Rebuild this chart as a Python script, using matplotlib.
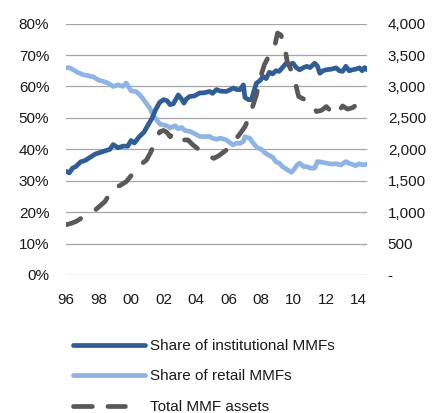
import matplotlib
matplotlib.use("Agg")
import matplotlib.pyplot as plt
from matplotlib.lines import Line2D
from matplotlib.ticker import FuncFormatter

plt.rcParams['font.family'] = ['Liberation Sans', 'DejaVu Sans']

# ---- data ----
inst_years = [1996.0, 1996.2, 1996.4, 1996.6, 1996.9, 1997.2, 1997.5, 1997.8, 1998.1, 1998.4,
              1998.7, 1998.9, 1999.2, 1999.5, 1999.8, 2000.0, 2000.2, 2000.5, 2000.8, 2001.05,
              2001.3, 2001.5, 2001.75, 2002.0, 2002.2, 2002.4, 2002.6, 2002.9, 2003.1, 2003.25,
              2003.4, 2003.6, 2003.9, 2004.2, 2004.5, 2004.83, 2005.0, 2005.25, 2005.5, 2005.86,
              2006.1, 2006.3, 2006.5, 2006.7, 2006.9, 2007.0, 2007.2, 2007.4, 2007.55, 2007.7,
              2007.95, 2008.1, 2008.3, 2008.5, 2008.7, 2008.9, 2009.1, 2009.3, 2009.54, 2009.75,
              2009.95, 2010.15, 2010.36, 2010.6, 2010.8, 2011.0, 2011.28, 2011.45, 2011.6, 2011.8,
              2012.0, 2012.3, 2012.6, 2012.8, 2013.0, 2013.2, 2013.4, 2013.6, 2013.8, 2014.04,
              2014.2, 2014.35, 2014.5]
inst_share = [33.0, 32.5, 34.0, 34.5, 36.0, 36.5, 37.5, 38.5, 39.0, 39.5,
              40.0, 41.5, 40.5, 41.0, 41.0, 42.8, 42.0, 44.0, 45.5, 47.8,
              50.0, 52.5, 54.9, 55.8, 55.5, 54.2, 54.5, 57.3, 56.0, 54.7,
              56.0, 56.8, 57.0, 57.9, 58.0, 58.4, 57.8, 59.0, 58.5, 58.4,
              59.0, 59.5, 59.0, 59.0, 60.5, 56.5, 55.8, 55.8, 58.5, 61.0,
              62.0, 63.2, 62.5, 64.5, 64.0, 65.0, 64.8, 66.0, 67.4, 67.0,
              67.4, 66.0, 65.3, 66.0, 66.4, 66.0, 67.4, 66.5, 64.2, 65.0,
              65.3, 65.5, 65.9, 65.0, 64.8, 66.4, 65.0, 65.3, 65.5, 65.9,
              65.0, 66.0, 65.3]

retail_years = [1996.0, 1996.2, 1996.45, 1996.7, 1997.06, 1997.3, 1997.7, 1998.0, 1998.3, 1998.6,
                1998.9, 1999.2, 1999.5, 1999.7, 2000.0, 2000.3, 2000.5, 2000.7, 2000.95, 2001.15,
                2001.35, 2001.56, 2001.77, 2001.97, 2002.2, 2002.4, 2002.7, 2002.9, 2003.1, 2003.3,
                2003.6, 2003.9, 2004.2, 2004.5, 2004.83, 2005.0, 2005.25, 2005.5, 2005.86, 2006.1,
                2006.27, 2006.5, 2006.7, 2006.9, 2007.0, 2007.3, 2007.5, 2007.75, 2008.0, 2008.2,
                2008.5, 2008.7, 2008.9, 2009.1, 2009.3, 2009.6, 2009.85, 2010.0, 2010.2, 2010.36,
                2010.6, 2010.8, 2011.0, 2011.28, 2011.45, 2011.6, 2012.0, 2012.3, 2012.6, 2012.9,
                2013.2, 2013.4, 2013.6, 2013.8, 2014.04, 2014.25, 2014.5]
retail_share = [65.9, 66.0, 65.3, 64.5, 63.7, 63.5, 63.0, 62.0, 61.6, 61.0,
                60.0, 60.5, 60.0, 61.1, 58.6, 58.4, 57.5, 56.3, 54.5, 53.1,
                51.0, 49.4, 48.0, 47.8, 47.5, 46.8, 47.5, 46.5, 47.0, 46.0,
                45.7, 45.0, 44.1, 44.0, 44.1, 43.5, 43.2, 43.5, 43.0, 42.0,
                41.4, 42.0, 41.9, 42.5, 44.0, 43.5, 42.0, 40.5, 40.0, 39.0,
                38.0, 37.5, 36.0, 35.6, 34.5, 33.5, 32.7, 33.5, 35.0, 35.6,
                34.5, 34.5, 34.0, 34.0, 36.1, 36.0, 35.6, 35.3, 35.4, 35.0,
                36.1, 35.5, 35.2, 34.8, 35.4, 35.0, 35.3]

assets_years = [1996.0, 1996.3, 1996.6, 1996.8, 1997.2, 1997.7, 1998.0, 1998.4, 1998.7, 1999.0,
                1999.3, 1999.7, 2000.0, 2000.3, 2000.6, 2000.95, 2001.2, 2001.4, 2001.6, 2001.77,
                2002.0, 2002.2, 2002.4, 2002.6, 2002.8, 2003.0, 2003.2, 2003.5, 2003.8, 2004.2,
                2004.5, 2004.8, 2005.1, 2005.4, 2005.86, 2006.1, 2006.4, 2006.7, 2007.0, 2007.2,
                2007.4, 2007.7, 2007.95, 2008.2, 2008.4, 2008.6, 2008.8, 2009.0, 2009.2, 2009.4,
                2009.6, 2009.85, 2010.1, 2010.3, 2010.6, 2010.9, 2011.1, 2011.4, 2011.7, 2012.0,
                2012.3, 2012.6, 2012.8, 2013.0, 2013.3, 2013.6, 2013.85, 2014.1, 2014.3, 2014.45]
assets_total = [800, 820, 850, 880, 950, 1010, 1080, 1170, 1300, 1405,
                1420, 1485, 1580, 1670, 1760, 1830, 1950, 2070, 2200, 2280,
                2300, 2270, 2200, 2260, 2250, 2230, 2150, 2148, 2070, 1990,
                1930, 1880, 1857, 1900, 1989, 2050, 2150, 2250, 2360, 2480,
                2625, 2864, 3150, 3350, 3450, 3500, 3607, 3850, 3820, 3686,
                3393, 3250, 3050, 2840, 2800, 2780, 2720, 2600, 2620, 2680,
                2600, 2545, 2620, 2690, 2640, 2660, 2705, 2680, 2620, 2573]

xtick_years = [1996, 1998, 2000, 2002, 2004, 2006, 2008, 2010, 2012, 2014]
xtick_labels = ['96', '98', '00', '02', '04', '06', '08', '10', '12', '14']
left_ticks = [0, 10, 20, 30, 40, 50, 60, 70, 80]
right_ticks = [0, 500, 1000, 1500, 2000, 2500, 3000, 3500, 4000]

series_labels = ['Share of institutional MMFs', 'Share of retail MMFs', 'Total MMF assets']

# ---- style ----
C_INST = '#2F5D95'
C_RET = '#8DB4E2'
C_TOT = '#595959'
C_TXT = '#1a1a1a'
FS = 11
LW = 3.4

fig = plt.figure(figsize=(4.36, 4.13), dpi=100)
ax = fig.add_axes([66/436, 1 - 275/413, (367-66)/436, (275-23.6)/413])
ax2 = ax.twinx()

l1, = ax.plot(inst_years, inst_share, color=C_INST, lw=LW, solid_capstyle='round',
              solid_joinstyle='round', label=series_labels[0], zorder=3)
l2, = ax.plot(retail_years, retail_share, color=C_RET, lw=LW, solid_capstyle='round',
              solid_joinstyle='round', label=series_labels[1], zorder=2)
l3, = ax2.plot(assets_years, assets_total, color=C_TOT, lw=LW, dash_capstyle='round',
               dashes=(3.4, 3.8), label=series_labels[2])

ax.set_xlim(1996, 2014.5)
ax.set_ylim(0, 80)
ax2.set_ylim(0, 4000)

ax.set_yticks(left_ticks)
ax.yaxis.set_major_formatter(FuncFormatter(lambda v, p: f'{int(v)}%'))
ax2.set_yticks(right_ticks)
ax2.yaxis.set_major_formatter(FuncFormatter(lambda v, p: '-' if v == 0 else f'{int(v):,}'))
ax.set_xticks(xtick_years)
ax.set_xticklabels(xtick_labels)

ax.grid(axis='y', color='#A6A6A6', lw=0.9)
ax.set_axisbelow(True)
for a in (ax, ax2):
    for s in a.spines.values():
        s.set_visible(False)

ax.tick_params(axis='y', length=0, pad=12, labelsize=FS, labelcolor=C_TXT)
ax.tick_params(axis='x', length=0, pad=13, labelsize=FS, labelcolor=C_TXT)
ax2.tick_params(axis='y', length=0, pad=15, labelsize=FS, labelcolor=C_TXT)
for t in ax2.get_yticklabels():
    t.set_horizontalalignment('left')

# legend proxy for the dashed series: two long dashes like the reference
h3 = Line2D([], [], color=C_TOT, lw=LW, dash_capstyle='round',
            dashes=(4.0, 3.3, 3.7, 12), label=series_labels[2])

leg = fig.legend(handles=[l1, l2, h3], loc='upper left',
                 bbox_to_anchor=(73/436, 1 - 339/413), frameon=False,
                 fontsize=FS, handlelength=4.7, handletextpad=0.35,
                 labelspacing=1.08, borderpad=0, borderaxespad=0)
for t in leg.get_texts():
    t.set_color(C_TXT)

fig.savefig('out.png', dpi=100)
